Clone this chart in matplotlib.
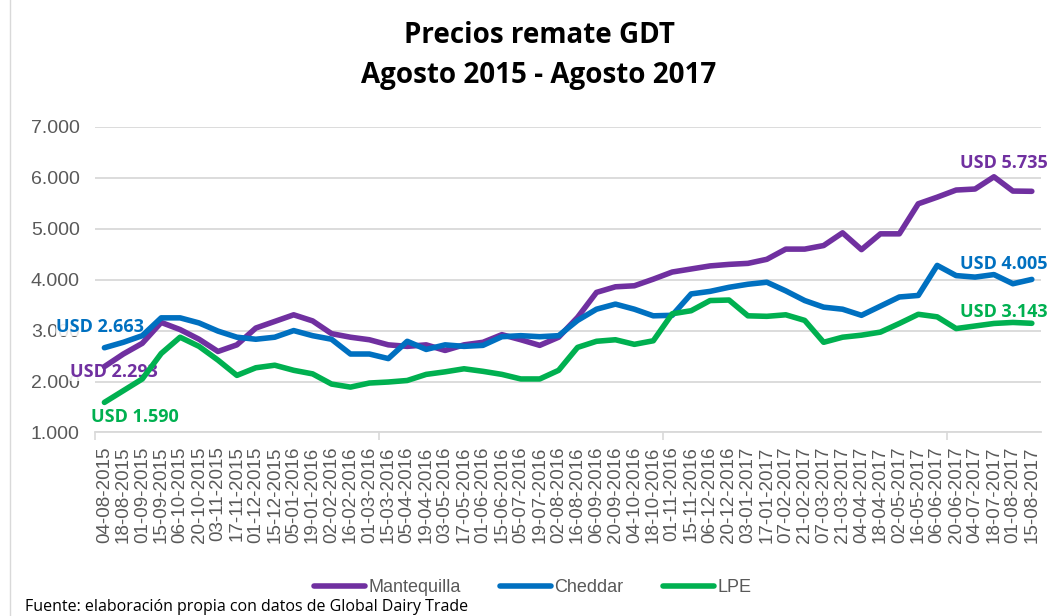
import numpy as np
import matplotlib.pyplot as plt

# fechas de remate GDT
fechas = ['04-08-2015', '18-08-2015', '01-09-2015', '15-09-2015', '06-10-2015',
          '20-10-2015', '03-11-2015', '17-11-2015', '01-12-2015', '15-12-2015',
          '05-01-2016', '19-01-2016', '02-02-2016', '16-02-2016', '01-03-2016',
          '15-03-2016', '05-04-2016', '19-04-2016', '03-05-2016', '17-05-2016',
          '01-06-2016', '15-06-2016', '05-07-2016', '19-07-2016', '02-08-2016',
          '16-08-2016', '06-09-2016', '20-09-2016', '04-10-2016', '18-10-2016',
          '01-11-2016', '15-11-2016', '06-12-2016', '20-12-2016', '03-01-2017',
          '17-01-2017', '07-02-2017', '21-02-2017', '07-03-2017', '21-03-2017',
          '04-04-2017', '18-04-2017', '02-05-2017', '16-05-2017', '06-06-2017',
          '20-06-2017', '04-07-2017', '18-07-2017', '01-08-2017', '15-08-2017']

mantequilla = [2293, 2540, 2750, 3160, 3020, 2830, 2590, 2720, 3050, 3180,
               3310, 3190, 2940, 2870, 2820, 2720, 2690, 2720, 2610, 2720,
               2770, 2920, 2820, 2710, 2870, 3260, 3750, 3860, 3880, 4010,
               4150, 4210, 4270, 4300, 4320, 4400, 4600, 4600, 4670, 4920,
               4590, 4900, 4900, 5490, 5620, 5760, 5780, 6020, 5740, 5735]

cheddar = [2663, 2770, 2900, 3250, 3250, 3150, 2990, 2870, 2830, 2870,
           3000, 2900, 2830, 2540, 2540, 2450, 2790, 2630, 2720, 2690,
           2710, 2880, 2900, 2880, 2900, 3200, 3420, 3520, 3420, 3290,
           3300, 3720, 3770, 3850, 3910, 3950, 3780, 3590, 3460, 3420,
           3300, 3480, 3660, 3690, 4280, 4080, 4050, 4100, 3920, 4005]

lpe = [1590, 1820, 2050, 2550, 2870, 2690, 2420, 2120, 2270, 2320,
       2220, 2150, 1950, 1890, 1970, 1990, 2020, 2140, 2190, 2250,
       2200, 2140, 2050, 2050, 2220, 2670, 2790, 2820, 2730, 2800,
       3330, 3390, 3590, 3600, 3290, 3280, 3310, 3200, 2770, 2870,
       2910, 2970, 3140, 3320, 3270, 3040, 3090, 3140, 3160, 3143]

series = ['Mantequilla', 'Cheddar', 'LPE']
colores = ['#7030A0', '#0070C0', '#00B050']
gris = '#595959'

plt.rcParams['font.family'] = ['Open Sans', 'DejaVu Sans']
arial = ['Liberation Sans', 'DejaVu Sans']

fig = plt.figure(figsize=(10.55, 6.16), dpi=100)
ax = fig.add_axes([0.090, 0.298, 0.897, 0.496])

x = np.arange(len(fechas))
for datos, nombre, c in zip([mantequilla, cheddar, lpe], series, colores):
    ax.plot(x, datos, color=c, lw=4, label=nombre, zorder=3,
            solid_joinstyle='round', solid_capstyle='round')

def fmt(v):
    return 'USD ' + f'{v / 1000:.3f}'

# etiquetas de inicio y fin: sobre las etiquetas del eje, bajo las lineas
etiq = [(0, 0, (10, -5)), (1, 0, (-4, 21)), (2, 0, (30, -15)),
        (0, -1, (-28, 28)), (1, -1, (-28, 15)), (2, -1, (-28, 11))]
todos = [mantequilla, cheddar, lpe]
for k, i, off in etiq:
    datos = todos[k]
    t = ax.annotate(fmt(datos[i]), (x[i], datos[i]), xytext=off,
                    textcoords='offset pixels', ha='center', va='center',
                    color=colores[k], fontsize=13, fontweight='bold',
                    annotation_clip=False, zorder=2)
    if i == 0:
        t.set_bbox(dict(facecolor='white', edgecolor='none', pad=0.5, alpha=0.85))

ax.set_xlim(-0.5, len(fechas) - 0.5)
ax.set_ylim(1000, 7000)
ax.set_yticks(np.arange(1000, 7001, 1000))
ax.set_yticklabels([f'{v // 1000}.000' for v in range(1000, 7001, 1000)],
                   family=arial)
ax.set_xticks(x)
ax.set_xticklabels(fechas, rotation=90, family=arial)
ax.set_xticks([-0.5, 14.5, 29.5, 44.5], minor=True)
ax.tick_params(axis='x', which='major', length=0, labelsize=13.5, labelcolor=gris, pad=10)
ax.tick_params(axis='x', which='minor', length=6, color='#D9D9D9', width=1.2)
ax.tick_params(axis='y', length=0, labelsize=14, labelcolor=gris, pad=11)
ax.grid(axis='y', color='#D9D9D9', lw=1.3)
ax.set_axisbelow(True)
for s in ['top', 'right', 'left']:
    ax.spines[s].set_visible(False)
ax.spines['bottom'].set_color('#D9D9D9')
ax.spines['bottom'].set_linewidth(1.3)

fig.text(0.511, 0.943, 'Precios remate GDT', ha='center', va='center',
         fontsize=20, fontweight='bold')
fig.text(0.511, 0.878, 'Agosto 2015 - Agosto 2017', ha='center', va='center',
         fontsize=20, fontweight='bold')

fig.legend(loc='center', bbox_to_anchor=(0.505, 0.046), ncol=3, frameon=False,
           prop={'family': arial, 'size': 13}, labelcolor=gris,
           handlelength=2.8, columnspacing=2.2, handletextpad=0.2)

fig.text(0.024, 0.014, 'Fuente: elaboración propia con datos de Global Dairy Trade',
         fontsize=11.5, va='center')

fig.add_artist(plt.Line2D([0.0095, 0.0095], [0, 1], color='#D9D9D9', lw=1))

fig.savefig('out.png', dpi=100)
